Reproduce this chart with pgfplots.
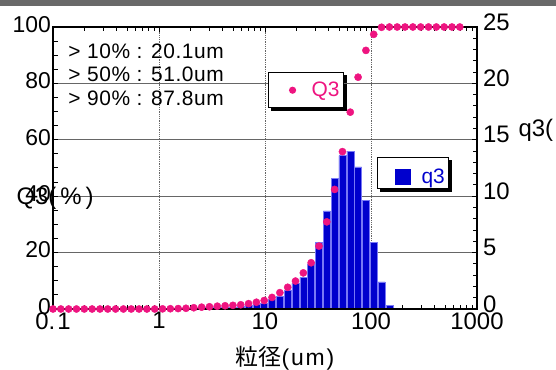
\documentclass[border=0pt]{standalone}
\usepackage{fontspec}
\setmainfont{Liberation Sans}
\newfontfamily\cjk{Noto Sans CJK JP}
\usepackage{pgfplots}
\usepackage{pgfplotstable}
\pgfplotsset{compat=1.18}
\usetikzlibrary{backgrounds}
\definecolor{dotpink}{RGB}{238,20,128}
\definecolor{barblue}{RGB}{0,0,205}
\definecolor{baredge}{RGB}{120,120,245}
\definecolor{topgray}{RGB}{105,105,105}

\pgfplotstableread{
x Q
0.1 0
0.1185 0
0.1405 0
0.1665 0
0.1973 0
0.2339 0
0.2772 0
0.3286 0
0.3895 0
0.4616 0
0.5470 0
0.6484 0
0.7685 0
0.9108 0
1.080 0.05
1.279 0.1
1.516 0.15
1.797 0.25
2.130 0.45
2.525 0.65
2.992 0.8
3.546 1.0
4.204 1.15
4.982 1.3
5.905 1.5
6.998 1.9
8.295 2.4
9.831 3.0
11.65 4.1
13.81 5.8
16.37 7.7
19.40 9.9
22.99 12.8
27.25 16.4
32.30 22.3
38.28 30.9
45.37 42.4
53.78 55.8
63.74 69.8
75.54 82.2
89.54 91.7
106.1 97.4
125.8 99.9
149.1 100
176.7 100
209.4 100
248.2 100
294.2 100
348.7 100
413.3 100
489.8 100
580.6 100
688.1 100
}\cumtable

\pgfplotstableread{
x q
1.080 0.02
1.279 0.03
1.516 0.05
1.797 0.08
2.130 0.10
2.525 0.12
2.992 0.12
3.546 0.15
4.204 0.15
4.982 0.15
5.905 0.2
6.998 0.3
8.295 0.42
9.831 0.5
11.65 0.86
13.81 1.15
16.37 1.68
19.40 2.28
22.99 2.8
27.25 4.0
32.30 5.9
38.28 8.7
45.37 11.6
53.78 13.6
63.74 14.0
75.54 12.6
89.54 9.6
106.1 5.9
125.8 2.4
149.1 0.35
}\freqtable

\begin{document}
\begin{tikzpicture}
\useasboundingbox (0,0) rectangle (556bp,370bp);
\fill[topgray] (0,364bp) rectangle (556bp,370bp);
% right axis: q3 bars
\begin{axis}[
  at={(53bp,61bp)}, anchor=south west,
  width=424bp, height=282bp, scale only axis,
  xmode=log, xmin=0.1, xmax=1000,
  ymin=0, ymax=25,
  xtick={0.1,1,10,100,1000},
  xticklabels={0.\hspace{2bp}1,1,10,100,1000},
  ytick={0,5,10,15,20,25},
  minor y tick num=4,
  ytick pos=right, yticklabel pos=right,
  /pgf/number format/assume math mode=true,
  axis line style={line width=2.2bp},
  tick style={line width=1bp, black},
  major tick length=5bp, minor tick length=4bp,
  xmajorgrids, ymajorgrids,
  y grid style={black!60, line width=1bp},
  x grid style={black!60, line width=0.8bp, densely dotted},
  x tick label style={font=\fontsize{24}{28}\selectfont},
  y tick label style={font=\fontsize{24}{28}\selectfont, inner xsep=6bp, yshift=5bp},
  ylabel={q3(\,\%\,)},
  every axis y label/.style={at={(axis description cs:1.0896,0.635)}, anchor=west, font=\fontsize{24}{28}\selectfont},
  xlabel={{\cjk 粒径}{\addfontfeature{LetterSpace=8}(um)}},
  every axis x label/.style={at={(axis description cs:0.547,-0.199)}, anchor=base, font=\fontsize{23}{27}\selectfont},
  legend style={at={(axis description cs:0.764,0.539)}, anchor=north west, name=legq,
    draw=black, line width=1.2bp, fill=white, inner sep=2bp,
    font=\fontsize{21}{24}\selectfont, text=barblue,
    column sep=9bp, nodes={inner sep=2bp}},
]
\addplot[ybar, bar width=7bp, bar shift=0pt, fill=barblue, draw=baredge, line width=0.5bp,
  legend image code/.code={\path[draw=none, fill=none] (-15bp,-9bp) rectangle (16bp,17bp); \fill[barblue, draw=none] (0bp,-8bp) rectangle (16bp,8bp);}]
  table[x=x, y=q] {\freqtable};
\addlegendentry{q3\hspace{6bp}}
\end{axis}
% left axis: Q3 cumulative
\begin{axis}[
  at={(53bp,61bp)}, anchor=south west,
  width=424bp, height=282bp, scale only axis,
  xmode=log, xmin=0.1, xmax=1000, xtick=\empty,
  ymin=0, ymax=100,
  ytick={0,20,40,60,80,100},
  minor y tick num=3,
  ytick pos=left,
  clip=false,
  /pgf/number format/assume math mode=true,
  axis line style={line width=2.2bp},
  tick style={line width=1bp, black},
  major tick length=5bp, minor tick length=5bp,
  y tick label style={font=\fontsize{23}{27}\selectfont, inner xsep=2bp, yshift=2.5bp},
  ylabel={Q3(\,\%\,)},
  every axis y label/.style={at={(axis description cs:-0.0943,0.394)}, anchor=west, font=\fontsize{24}{28}\selectfont},
  legend style={at={(axis description cs:0.507,0.84)}, anchor=north west, name=legQ,
    draw=black, line width=1.2bp, fill=white, inner sep=2bp,
    font=\fontsize{21}{24}\selectfont, text=dotpink,
    column sep=9bp, nodes={inner sep=2bp}},
]
\addplot[only marks, mark=*, mark size=3.6bp, color=dotpink, mark options={fill=dotpink, draw=none},
  legend image code/.code={\path[draw=none, fill=none] (-22bp,-15.5bp) rectangle (8bp,15.5bp); \fill[dotpink, draw=none] (0bp,0bp) circle (3.6bp);}]
  table[x=x, y=Q] {\cumtable};
\addlegendentry{Q3}
\node[anchor=base west, font=\fontsize{21}{24}\selectfont\addfontfeature{LetterSpace=3}] at (axis description cs:0.028,0.890) {> 10\% : 20.1um};
\node[anchor=base west, font=\fontsize{21}{24}\selectfont\addfontfeature{LetterSpace=3}] at (axis description cs:0.028,0.805) {> 50\% : 51.0um};
\node[anchor=base west, font=\fontsize{21}{24}\selectfont\addfontfeature{LetterSpace=3}] at (axis description cs:0.028,0.723) {> 90\% : 87.8um};
\end{axis}
\begin{scope}[on background layer]
\fill[black] ([shift={(3bp,-3bp)}]legQ.north west) rectangle ([shift={(3bp,-3bp)}]legQ.south east);
\fill[black] ([shift={(3bp,-3bp)}]legq.north west) rectangle ([shift={(3bp,-3bp)}]legq.south east);
\end{scope}
\end{tikzpicture}
\end{document}
